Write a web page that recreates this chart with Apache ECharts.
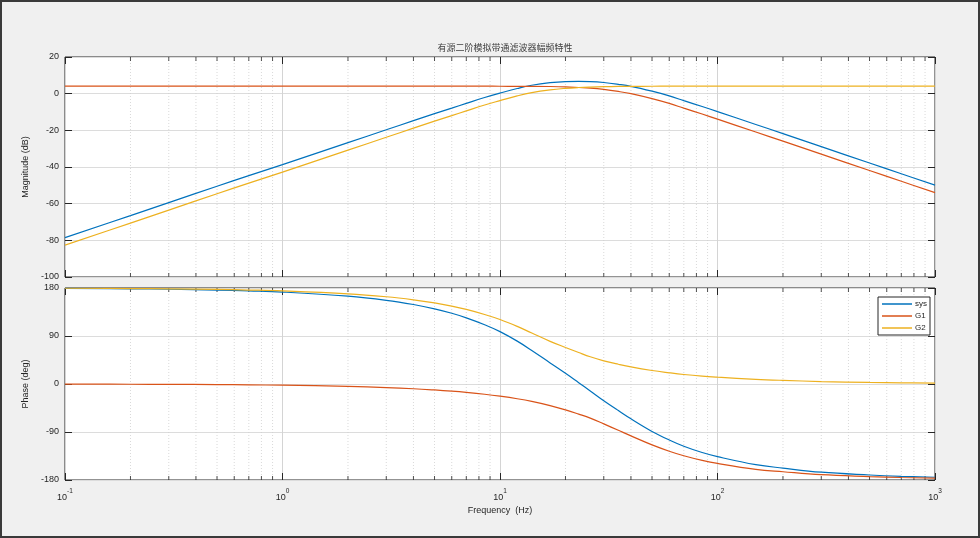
<!DOCTYPE html>
<html>
<head>
<meta charset="utf-8">
<script src="https://cdn.jsdelivr.net/npm/echarts@6/dist/echarts.min.js"></script>
<style>
  html, body { margin: 0; padding: 0; background: #f0f0f0; }
  #wrap { position: relative; width: 980px; height: 538px; }
  #chart { width: 980px; height: 538px; }
  #frame { position: absolute; left: 0; top: 0; width: 980px; height: 538px; box-sizing: border-box;
           border: 2px solid #3a3a3a; pointer-events: none; }
</style>
</head>
<body>
<div id="wrap">
  <div id="chart"></div>
  <div id="frame"></div>
</div>
<script>
// frequency points (Hz)
const freq = [0.1, 0.2, 0.3, 0.5, 0.7, 1, 2, 3, 4, 5, 6, 7, 8.5, 10, 12, 14, 17, 20, 23, 26, 30, 35, 40,
              50, 60, 70, 85, 100, 150, 200, 300, 500, 700, 1000];

// magnitude (dB)
const magSys = [-78.5, -66.5, -59.4, -50.5, -44.7, -38.7, -26.7, -19.7, -14.7, -10.9, -7.9, -5.3, -2.1, 0.3, 2.8,
                4.6, 6.0, 6.6, 6.7, 6.6, 6.1, 5.1, 4.0, 1.35, -1.2, -3.8, -7.0, -9.8, -16.8, -21.8, -28.9, -37.8, -43.7, -49.9];
const magG1 = [4.1, 4.1, 4.1, 4.1, 4.1, 4.1, 4.1, 4.1, 4.1, 4.1, 4.1, 4.1, 4.1, 4.05, 4.0,
               4.0, 3.9, 3.7, 3.35, 3.0, 2.3, 1.2, 0.0, -2.7, -5.3, -7.9, -11.1, -13.9, -20.9, -25.9, -33.0, -41.9, -47.8, -54.0];
const magG2 = [-82.6, -70.6, -63.5, -54.6, -48.8, -42.8, -30.8, -23.8, -18.8, -15.0, -12.0, -9.4, -6.2, -3.8, -1.2,
               0.6, 2.1, 2.9, 3.35, 3.6, 3.8, 3.95, 4.0, 4.05, 4.1, 4.1, 4.1, 4.1, 4.1, 4.1, 4.1, 4.1, 4.1, 4.1];

// phase (deg)
const phSys = [179.3, 178.5, 177.7, 176.2, 174.6, 172.4, 164.6, 156.9, 149, 140.9, 132.6, 124.1, 111.1, 98.2, 80.4,
               62.9, 39.5, 20, 2.5, -13, -31.3, -49.8, -65.3, -88.9, -105, -116.7, -128.5, -136.2, -151.2, -157.7,
               -165.4, -170.6, -173.1, -174.8];
const phG1 = [-0.2, -0.5, -0.7, -1.1, -1.6, -2.2, -4.5, -6.7, -8.9, -11.2, -13.4, -15.7, -19.2, -22.8, -27.6,
              -32.6, -40.5, -48.5, -56.5, -64, -74.8, -86.8, -97.3, -114.2, -126, -134.5, -143.2, -149, -160, -164.5,
              -170, -173.5, -175.3, -176.5];
const phG2 = [179.5, 179, 178.4, 177.3, 176.2, 174.6, 169.1, 163.6, 157.9, 152.1, 146, 139.8, 130.3, 121, 108,
              95.5, 80, 68.5, 59, 51, 43.5, 37, 32, 25.3, 21, 17.8, 14.7, 12.8, 8.8, 6.8, 4.6, 2.9, 2.2, 1.7];

const seriesNames = ['sys', 'G1', 'G2'];
const colors = ['#0072BD', '#D95319', '#EDB120'];

const magTicks = { min: -100, max: 20, interval: 20 };
const phTicks = { min: -180, max: 180, interval: 90 };
const freqRange = { min: 0.1, max: 1000 };

// minor log grid positions 2..9 in each decade
const minorTicks = [];
[0.1, 1, 10, 100].forEach(d => {
  for (let m = 2; m <= 9; m++) minorTicks.push(+(m * d).toPrecision(3));
});

const chart = echarts.init(document.getElementById('chart'));

const tickColor = '#262626';
const labelFont = 'Liberation Sans, Arial, sans-serif';

function pairs(ys) {
  return freq.map((f, i) => [f, ys[i]]);
}

function minorGrid(xIdx, yIdx, yr) {
  return {
    type: 'custom',
    xAxisIndex: xIdx,
    yAxisIndex: yIdx,
    silent: true,
    clip: false,
    z: 1,
    data: minorTicks.map(f => [f, yr.min]),
    encode: { x: 0, y: 1 },
    renderItem: (params, api) => {
      const f = api.value(0);
      const top = api.coord([f, yr.max]);
      const bot = api.coord([f, yr.min]);
      return {
        type: 'group',
        children: [
          { type: 'line', shape: { x1: top[0], y1: top[1], x2: bot[0], y2: bot[1] },
            style: { stroke: '#cfcfcf', lineWidth: 0.8, lineDash: [1, 2] } },
          { type: 'line', shape: { x1: bot[0], y1: bot[1], x2: bot[0], y2: bot[1] - 4 },
            style: { stroke: tickColor, lineWidth: 0.8 } },
          { type: 'line', shape: { x1: top[0], y1: top[1], x2: top[0], y2: top[1] + 4 },
            style: { stroke: tickColor, lineWidth: 0.8 } }
        ]
      };
    }
  };
}

function xAxisDef(gridIndex, position, showLabels) {
  return {
    type: 'log',
    logBase: 10,
    gridIndex: gridIndex,
    position: position,
    min: freqRange.min,
    max: freqRange.max,
    axisLine: { show: false, onZero: false },
    axisTick: { show: true, inside: true, length: 7, lineStyle: { color: tickColor, width: 1 } },
    splitLine: { show: position === 'bottom', lineStyle: { color: '#d4d4d4', width: 1 } },
    axisLabel: {
      show: showLabels,
      margin: 8,
      formatter: v => {
        const e = Math.round(Math.log10(v));
        return '{b|10}{s|' + e + '}';
      },
      rich: {
        b: { fontSize: 9, fontFamily: labelFont, color: tickColor, lineHeight: 14, verticalAlign: 'bottom' },
        s: { fontSize: 6.5, fontFamily: labelFont, color: tickColor, lineHeight: 14, verticalAlign: 'top' }
      }
    },
    name: showLabels ? 'Frequency  (Hz)' : '',
    nameLocation: 'middle',
    nameGap: 26,
    nameTextStyle: { fontSize: 9, fontFamily: labelFont, color: tickColor }
  };
}

function yAxisDef(gridIndex, position, range, name) {
  const left = position === 'left';
  return {
    type: 'value',
    gridIndex: gridIndex,
    position: position,
    min: range.min,
    max: range.max,
    interval: range.interval,
    axisLine: { show: false, onZero: false },
    axisTick: { show: true, inside: true, length: 7, lineStyle: { color: tickColor, width: 1 } },
    splitLine: { show: left, lineStyle: { color: '#dcdcdc', width: 1 } },
    axisLabel: { show: left, fontSize: 9, fontFamily: labelFont, color: tickColor, margin: 6 },
    name: left ? name : '',
    nameLocation: 'middle',
    nameGap: 30,
    nameTextStyle: { fontSize: 9, fontFamily: labelFont, color: tickColor }
  };
}

function lineSeries(name, color, data, xIdx, yIdx) {
  return {
    name: name,
    type: 'line',
    xAxisIndex: xIdx,
    yAxisIndex: yIdx,
    data: data,
    showSymbol: false,
    smooth: 0.4,
    lineStyle: { color: color, width: 1.2 },
    itemStyle: { color: color },
    z: 3,
    animation: false
  };
}

const magData = [magSys, magG1, magG2];
const phData = [phSys, phG1, phG2];

const series = [
  minorGrid(0, 0, magTicks),
  minorGrid(2, 2, phTicks)
];
seriesNames.forEach((n, i) => {
  series.push(lineSeries(n, colors[i], pairs(magData[i]), 0, 0));
});
seriesNames.forEach((n, i) => {
  series.push(lineSeries(n, colors[i], pairs(phData[i]), 2, 2));
});

const option = {
  animation: false,
  backgroundColor: '#f0f0f0',
  title: {
    text: '有源二阶模拟带通滤波器幅频特性',
    left: 500,
    top: 38,
    textAlign: 'center',
    textStyle: { fontSize: 9, fontWeight: 'normal', color: '#404040', fontFamily: 'Noto Sans CJK SC' }
  },
  legend: {
    data: seriesNames,
    orient: 'vertical',
    right: 50,
    top: 297,
    icon: 'rect',
    itemWidth: 30,
    itemHeight: 1.5,
    itemGap: 4,
    padding: [3, 3, 3, 4],
    backgroundColor: '#ffffff',
    borderColor: tickColor,
    borderWidth: 1,
    borderRadius: 0,
    textStyle: { fontSize: 8, fontFamily: labelFont, color: tickColor, padding: [0, 0, 0, -2] }
  },
  grid: [
    { left: 65, right: 45, top: 57, height: 220, show: true, backgroundColor: '#ffffff',
      borderColor: tickColor, borderWidth: 1 },
    { left: 65, right: 45, top: 288, height: 192, show: true, backgroundColor: '#ffffff',
      borderColor: tickColor, borderWidth: 1 }
  ],
  xAxis: [
    xAxisDef(0, 'bottom', false),
    xAxisDef(0, 'top', false),
    xAxisDef(1, 'bottom', true),
    xAxisDef(1, 'top', false)
  ],
  yAxis: [
    yAxisDef(0, 'left', magTicks, 'Magnitude (dB)'),
    yAxisDef(0, 'right', magTicks, ''),
    yAxisDef(1, 'left', phTicks, 'Phase (deg)'),
    yAxisDef(1, 'right', phTicks, '')
  ],
  series: series
};

chart.setOption(option);
</script>
</body>
</html>
